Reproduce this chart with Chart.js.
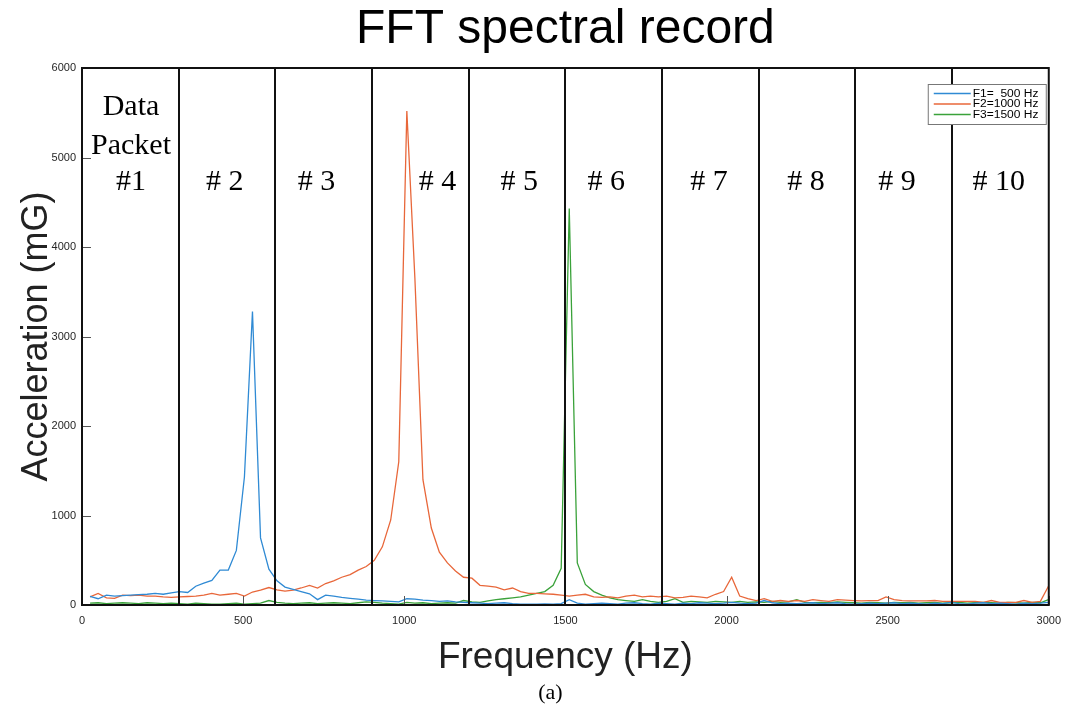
<!DOCTYPE html>
<html>
<head>
<meta charset="utf-8">
<title>FFT spectral record</title>
<script src="https://cdn.jsdelivr.net/npm/chart.js@4.4.1/dist/chart.umd.min.js"></script>
<style>
  html, body { margin: 0; padding: 0; background: #fff; }
  #wrap { width: 1070px; height: 717px; position: relative; }
</style>
</head>
<body>
<div id="wrap"><canvas id="fft-chart"></canvas></div>
<script>
// FFT spectral record - three test tones, split into 300 Hz data packets

// frequency bins (Hz)
const freqHz = [
  25, 50, 76, 101, 126, 151, 176, 202, 227, 252,
  277, 302, 328, 353, 378, 403, 428, 454, 479, 504,
  529, 554, 580, 605, 630, 655, 680, 706, 731, 756,
  781, 806, 832, 857, 882, 907, 932, 958, 983, 1008,
  1033, 1058, 1084, 1109, 1134, 1159, 1184, 1210, 1235, 1260,
  1285, 1310, 1336, 1361, 1386, 1411, 1436, 1462, 1487, 1512,
  1537, 1562, 1588, 1613, 1638, 1663, 1688, 1714, 1739, 1764,
  1789, 1814, 1840, 1865, 1890, 1915, 1940, 1966, 1991, 2016,
  2041, 2066, 2092, 2117, 2142, 2167, 2192, 2218, 2243, 2268,
  2293, 2318, 2344, 2369, 2394, 2419, 2444, 2470, 2495, 2520,
  2545, 2570, 2596, 2621, 2646, 2671, 2696, 2722, 2747, 2772,
  2797, 2822, 2848, 2873, 2898, 2923, 2948, 2974, 2999
]

// acceleration (mG), F1 = 500 Hz
const f1Amp = [
  95, 70, 110, 100, 105, 110, 115, 120, 130, 120,
  135, 150, 140, 210, 245, 275, 390, 390, 610, 1430,
  3280, 750, 400, 270, 200, 175, 150, 125, 60, 110,
  100, 85, 75, 65, 55, 50, 45, 40, 35, 70,
  65, 55, 50, 40, 45, 35, 30, 25, 20, 15,
  20, 25, 15, 10, 10, 10, 12, 10, 15, 60,
  20, 10, 15, 20, 15, 10, 20, 25, 15, 10,
  20, 15, 10, 20, 15, 25, 20, 15, 20, 30,
  20, 15, 20, 50, 25, 15, 20, 15, 20, 25,
  15, 20, 25, 15, 10, 15, 20, 15, 20, 25,
  15, 20, 15, 10, 20, 15, 30, 15, 10, 20,
  25, 15, 20, 15, 10, 20, 15, 20, 30
]

// acceleration (mG), F2 = 1000 Hz
const f2Amp = [
  90, 130, 80, 75, 110, 105, 110, 100, 100, 90,
  85, 90, 95, 100, 110, 130, 110, 120, 130, 100,
  145, 165, 195, 170, 155, 165, 190, 220, 190, 240,
  270, 310, 340, 390, 430, 500, 650, 950, 1600, 5520,
  3650, 1400, 860, 590, 470, 380, 310, 300, 220, 210,
  200, 170, 190, 150, 130, 130, 125, 120, 110, 100,
  110, 120, 90, 85, 90, 80, 100, 110, 90, 100,
  90, 100, 80, 85, 100, 90, 80, 120, 150, 310,
  100, 70, 50, 70, 40, 50, 40, 50, 40, 60,
  50, 40, 60, 55, 50, 45, 50, 50, 90, 60,
  50, 45, 45, 45, 50, 40, 40, 40, 40, 40,
  30, 50, 30, 30, 30, 50, 30, 40, 210
]

// acceleration (mG), F3 = 1500 Hz
const f3Amp = [
  20, 25, 15, 20, 25, 20, 15, 25, 20, 15,
  20, 15, 10, 20, 15, 10, 10, 15, 20, 10,
  15, 20, 50, 30, 20, 15, 20, 25, 15, 20,
  25, 20, 15, 25, 35, 30, 20, 15, 10, 30,
  20, 25, 15, 20, 25, 20, 50, 35, 30, 45,
  60, 70, 80, 90, 110, 130, 150, 220, 410, 4430,
  470, 230, 150, 110, 80, 60, 50, 40, 60, 40,
  30, 40, 70, 30, 40, 35, 30, 40, 35, 30,
  40, 30, 35, 30, 40, 30, 35, 60, 30, 25,
  30, 25, 35, 30, 25, 20, 30, 25, 20, 30,
  25, 30, 20, 25, 30, 20, 25, 30, 20, 25,
  30, 25, 20, 30, 25, 20, 30, 25, 60
]

const seriesLabels = ['F1=  500 Hz', 'F2=1000 Hz', 'F3=1500 Hz']
const packetEdgesHz = [300, 600, 900, 1200, 1500, 1800, 2100, 2400, 2700]
const packetNames = ['# 2', '# 3', '# 4', '# 5', '# 6', '# 7', '# 8', '# 9', '# 10']
const firstPacketName = ['Data', 'Packet', '#1']
const xTicks = [0, 500, 1000, 1500, 2000, 2500, 3000]
const yTicks = [0, 1000, 2000, 3000, 4000, 5000, 6000]

// where the packet names sit (Hz along x, mG along y)
const labelSpots = {
  firstX: 152,
  firstLinesY: [5475, 5040, 4640],
  namesX: [443, 728, 1103, 1357, 1627, 1946, 2247, 2529, 2845],
  namesY: 4640
}

const COLORS = {
  blue: '#2f8ad4',
  red: '#e8673a',
  green: '#3aa23a',
  ink: '#262626'
}

const SANS = '"Liberation Sans", Arial, sans-serif'
const SERIF = '"Liberation Serif", "Times New Roman", serif'

function toPoints(amp) {
  return freqHz.map((f, i) => ({ x: f, y: amp[i] }))
}

// packet borders, frame, inner ticks, labels and legend
const packetPlugin = {
  id: 'packetPlugin',
  afterDatasetsDraw(chart) {
    const { ctx, chartArea: a, scales: { x, y } } = chart
    ctx.save()

    // inner tick marks
    ctx.strokeStyle = '#555'
    ctx.lineWidth = 1
    ctx.beginPath()
    xTicks.forEach(v => {
      const px = Math.round(x.getPixelForValue(v)) + 0.5
      ctx.moveTo(px, a.bottom)
      ctx.lineTo(px, a.bottom - 9)
    })
    yTicks.forEach(v => {
      const py = Math.round(y.getPixelForValue(v)) + 0.5
      ctx.moveTo(a.left, py)
      ctx.lineTo(a.left + 9, py)
    })
    ctx.stroke()

    // packet borders
    ctx.strokeStyle = '#111'
    ctx.lineWidth = 2
    ctx.beginPath()
    packetEdgesHz.forEach(v => {
      const px = Math.round(x.getPixelForValue(v))
      ctx.moveTo(px, a.top)
      ctx.lineTo(px, a.bottom)
    })
    ctx.stroke()

    // axes box
    ctx.lineWidth = 2
    ctx.strokeRect(a.left, a.top, a.right - a.left, a.bottom - a.top)

    // packet names
    ctx.fillStyle = '#000'
    ctx.font = '30px ' + SERIF
    ctx.textAlign = 'center'
    ctx.textBaseline = 'alphabetic'
    firstPacketName.forEach((t, i) => {
      ctx.fillText(t, x.getPixelForValue(labelSpots.firstX), y.getPixelForValue(labelSpots.firstLinesY[i]))
    })
    packetNames.forEach((t, i) => {
      ctx.fillText(t, x.getPixelForValue(labelSpots.namesX[i]), y.getPixelForValue(labelSpots.namesY))
    })

    // sub-figure tag
    ctx.font = '22px ' + SERIF
    ctx.textBaseline = 'middle'
    ctx.fillText('(a)', (a.left + a.right) / 2 - 15, 693)

    // legend box
    const boxW = 118, boxH = 40
    const bx = a.right - 3 - boxW, by = a.top + 16
    ctx.fillStyle = '#fff'
    ctx.fillRect(bx, by, boxW, boxH)
    ctx.strokeStyle = '#777'
    ctx.lineWidth = 1
    ctx.strokeRect(bx + 0.5, by + 0.5, boxW, boxH)
    ctx.font = '10px ' + SANS
    ctx.textAlign = 'left'
    ctx.textBaseline = 'middle'
    chart.data.datasets.forEach((ds, i) => {
      const ly = by + 9.5 + i * 10.5
      ctx.strokeStyle = ds.borderColor
      ctx.lineWidth = 1.3
      ctx.beginPath()
      ctx.moveTo(bx + 6, ly)
      ctx.lineTo(bx + 43, ly)
      ctx.stroke()
      // the exported figure is a bit stretched sideways
      ctx.save()
      ctx.translate(bx + 45, ly + 0.5)
      ctx.scale(1.2, 1)
      ctx.fillStyle = '#000'
      ctx.fillText(ds.label, 0, 0)
      ctx.restore()
    })

    ctx.restore()
  }
}

const canvas = document.getElementById('fft-chart')

new Chart(canvas, {
  type: 'line',
  data: {
    datasets: [
      { label: seriesLabels[0], data: toPoints(f1Amp), borderColor: COLORS.blue },
      { label: seriesLabels[1], data: toPoints(f2Amp), borderColor: COLORS.red },
      { label: seriesLabels[2], data: toPoints(f3Amp), borderColor: COLORS.green }
    ]
  },
  options: {
    responsive: true,
    maintainAspectRatio: false,
    animation: false,
    layout: { padding: { top: 0, right: 20, bottom: 0, left: 0 } },
    elements: {
      line: { borderWidth: 1.3, tension: 0, fill: false },
      point: { radius: 0, hoverRadius: 0 }
    },
    scales: {
      x: {
        type: 'linear',
        min: 0,
        max: 3000,
        afterFit: (s) => { s.height = 112 },
        afterBuildTicks: (s) => { s.ticks = xTicks.map(v => ({ value: v })) },
        grid: { display: false, drawTicks: false },
        border: { display: false },
        ticks: {
          padding: 9,
          color: COLORS.ink,
          font: { family: SANS, size: 11 },
          maxRotation: 0,
          callback: (v) => String(v)
        },
        title: {
          display: true,
          text: 'Frequency (Hz)',
          color: '#222',
          font: { family: SANS, size: 37, lineHeight: 1.2 },
          padding: { top: 0, bottom: 37 }
        }
      },
      y: {
        min: 0,
        max: 6000,
        afterFit: (s) => { s.width = 82 },
        afterBuildTicks: (s) => { s.ticks = yTicks.map(v => ({ value: v })) },
        grid: { display: false, drawTicks: false },
        border: { display: false },
        ticks: {
          padding: 6,
          color: COLORS.ink,
          font: { family: SANS, size: 11 },
          callback: (v) => String(v)
        },
        title: {
          display: true,
          text: 'Acceleration (mG)',
          color: '#222',
          font: { family: SANS, size: 36, lineHeight: 1.2 },
          padding: { top: 15, bottom: 0 }
        }
      }
    },
    plugins: {
      legend: { display: false },
      tooltip: { enabled: false },
      title: {
        display: true,
        fullSize: false,
        text: 'FFT spectral record',
        color: '#000',
        font: { family: SANS, size: 48, weight: 'normal', lineHeight: 1 },
        padding: { top: 6, bottom: 14 }
      }
    }
  },
  plugins: [packetPlugin]
})
</script>
</body>
</html>
